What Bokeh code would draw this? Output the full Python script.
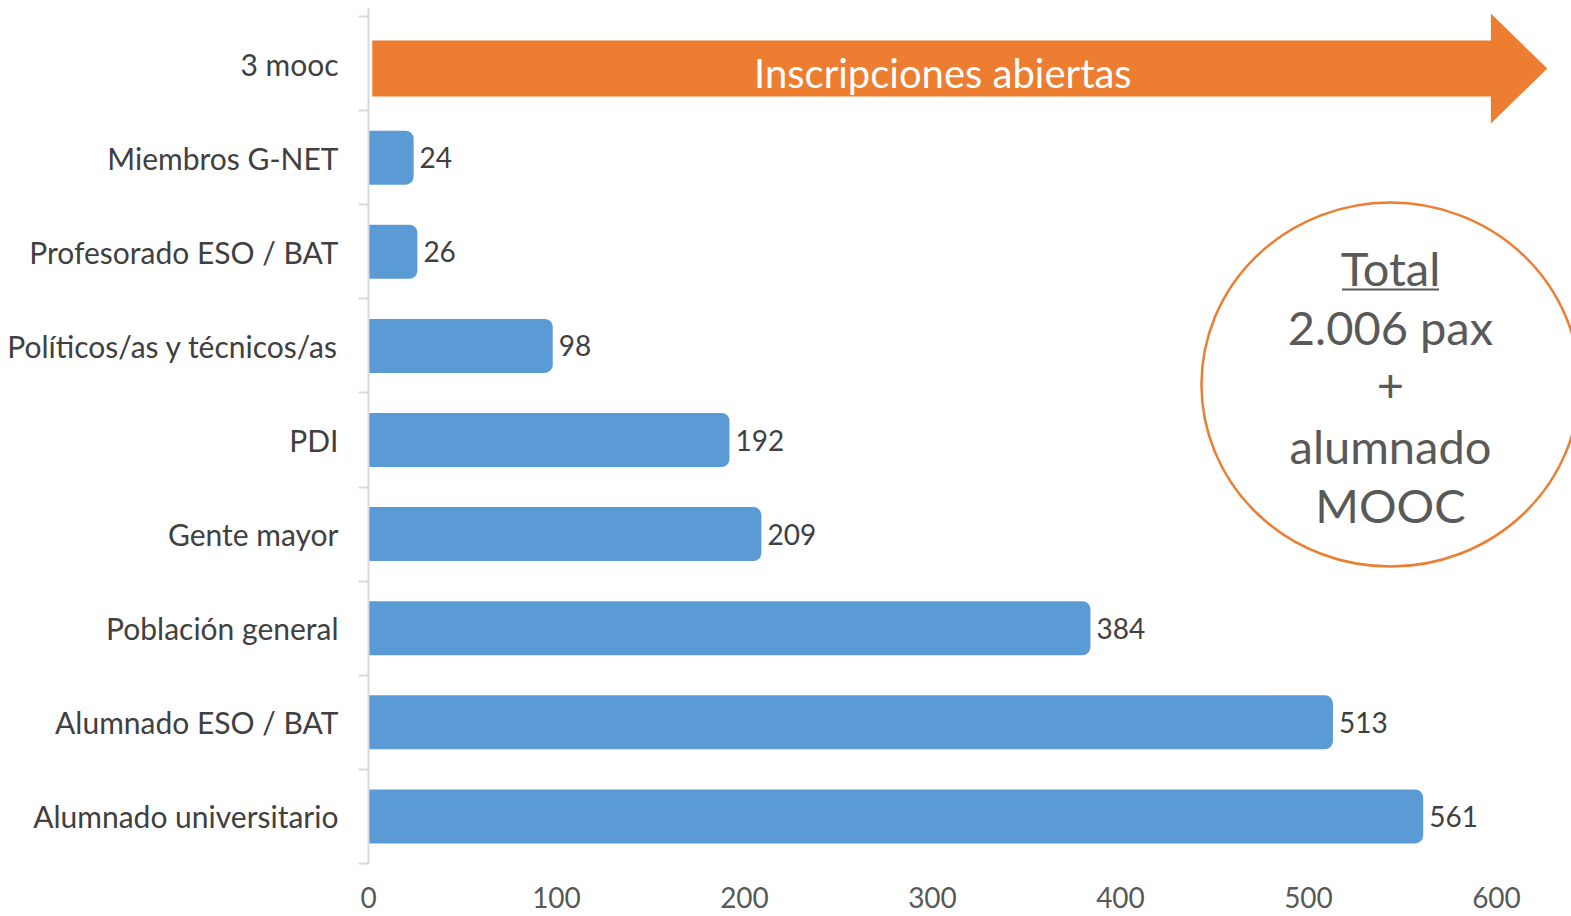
from bokeh.plotting import figure
from bokeh.models import Range1d, FixedTicker, ColumnDataSource
from bokeh.core.properties import value
from bokeh.embed import file_html
from bokeh.resources import INLINE

# ---- data ----
categories = ["Alumnado universitario", "Alumnado ESO / BAT", "Población general",
              "Gente mayor", "PDI", "Políticos/as y técnicos/as",
              "Profesorado ESO / BAT", "Miembros G-NET", "3 mooc"]
values = [561, 513, 384, 209, 192, 98, 26, 24]          # bars (3 mooc has no bar)
x_ticks = [0, 100, 200, 300, 400, 500, 600]
arrow_text = "Inscripciones abiertas"
circle_lines = ["Total", "2.006 pax", "+", "alumnado", "MOOC"]

FONT = "Lato"
BLUE = "#5B9BD5"
ORANGE = "#ED7D31"

PX_PER_UNIT = 1.88
ROW_PX = 94.1
W, H = 1571, 916
LEFT, TOP, BOTTOM = 368, 8, 53
frame_w = W - LEFT
x_max = frame_w / PX_PER_UNIT
n = len(categories)
y_max = n + 8 / ROW_PX

p = figure(width=W, height=H, output_backend="svg", toolbar_location=None,
           x_range=Range1d(0, x_max), y_range=Range1d(0, y_max),
           min_border_left=LEFT, min_border_right=0, min_border_top=TOP,
           min_border_bottom=BOTTOM)
p.outline_line_color = None
p.grid.visible = False
p.background_fill_color = "white"
p.border_fill_color = "white"

centers = [i + 0.5 for i in range(n)]
bar_y = centers[:len(values)]

src = ColumnDataSource(dict(y=bar_y, v=values, lbl=[str(v) for v in values]))
p.hbar(y="y", left=0, right="v", height=54 / ROW_PX, source=src,
       fill_color=BLUE, line_color=None, border_radius=(0, 8, 8, 0))
p.text(x="v", y="y", text="lbl", source=src, x_offset=6,
       text_font=value(FONT), text_font_size="28px", text_color="#404040",
       text_align="left", text_baseline="middle")

# ---- arrow on the "3 mooc" row ----
ay = centers[-1] - 0.053
body_half = 0.298
head_half = 0.584
a_start, a_base, a_tip = 2.0, 597.0, 627.0
p.patch(x=[a_start, a_base, a_base, a_tip, a_base, a_base, a_start],
        y=[ay - body_half, ay - body_half, ay - head_half, ay,
           ay + head_half, ay + body_half, ay + body_half],
        fill_color=ORANGE, line_color=None)
p.text(x=[(a_start + a_base) / 2 + 6], y=[ay], text=[arrow_text], y_offset=[4],
       text_font=value(FONT), text_font_size="40px", text_color="white",
       text_align="center", text_baseline="middle")

# ---- circle annotation ----
cx, cy = 543.6, 5.089
p.ellipse(x=[cx], y=[cy], width=[378], height=[364],
          width_units="screen", height_units="screen",
          fill_color=None, line_color=ORANGE, line_width=2.5)
offs = [-117, -58, 1, 61, 120]
p.text(x=[cx] * len(circle_lines), y=[cy] * len(circle_lines), text=circle_lines,
       y_offset=offs, text_font=value(FONT), text_font_size="47px",
       text_color="#595959", text_align="center", text_baseline="middle")
ul_half = 97 / 2 / PX_PER_UNIT
ul_y = cy + 95 / ROW_PX
p.segment(x0=[cx - ul_half], x1=[cx + ul_half], y0=[ul_y], y1=[ul_y],
          line_color="#595959", line_width=2)

# ---- axes ----
ya = p.yaxis[0]
ya.ticker = FixedTicker(ticks=centers, minor_ticks=list(range(n + 1)))
ya.major_label_overrides = {c: cat for c, cat in zip(centers, categories)}
ya.major_tick_out = 0
ya.major_tick_in = 0
ya.minor_tick_out = 10
ya.minor_tick_in = 0
ya.minor_tick_line_color = "#D9D9D9"
ya.minor_tick_line_width = 2
ya.axis_line_color = "#D9D9D9"
ya.axis_line_width = 2
ya.major_label_standoff = 20
ya.major_label_text_font = FONT
ya.major_label_text_font_size = "30px"
ya.major_label_text_color = "#404040"

xa = p.xaxis[0]
xa.ticker = FixedTicker(ticks=x_ticks, minor_ticks=[])
xa.axis_line_color = None
xa.major_tick_line_color = None
xa.major_tick_out = 0
xa.major_tick_in = 0
xa.major_label_standoff = 23
xa.major_label_text_font = FONT
xa.major_label_text_font_size = "28px"
xa.major_label_text_color = "#595959"

open("out.html", "w").write(file_html(p, INLINE))
